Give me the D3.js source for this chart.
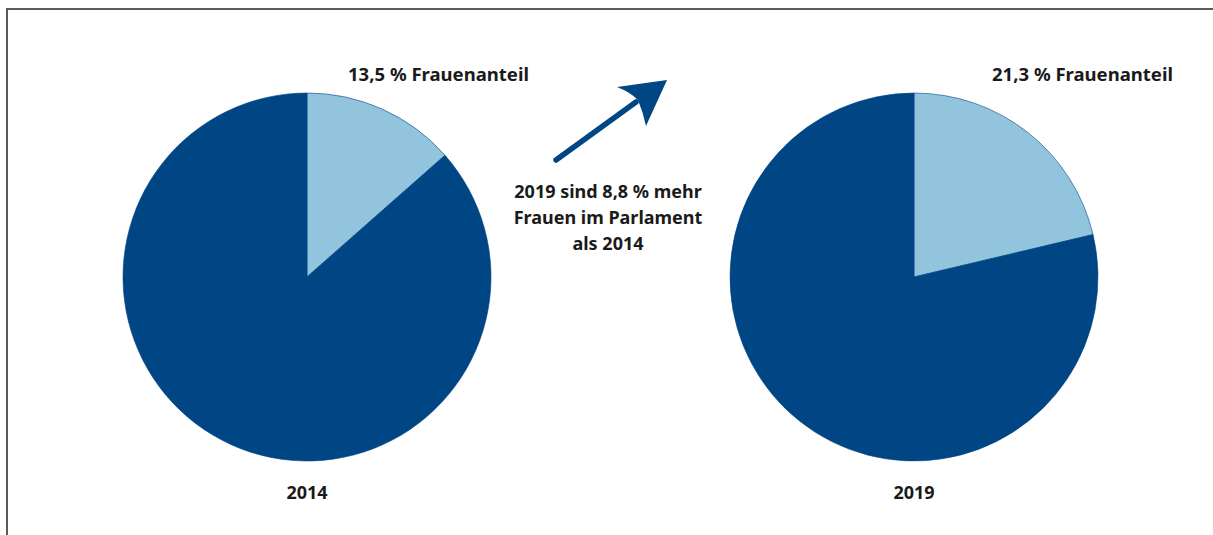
<!DOCTYPE html>
<html>
<head>
<meta charset="utf-8">
<script src="https://cdn.jsdelivr.net/npm/d3@7"></script>
<style>
  body { margin: 0; background: #fff; }
  svg text { font-family: "Noto Sans", "Open Sans", sans-serif; font-weight: bold; fill: #1a1a1a; }
</style>
</head>
<body>
<div id="wrapper"></div>
<script>
// data
const years = ["2014", "2019"]
const womenShare = [13.5, 21.3]
const menShare = [86.5, 78.7]
const shareLabels = ["13,5 % Frauenanteil", "21,3 % Frauenanteil"]
const noteLines = ["2019 sind 8,8 % mehr", "Frauen im Parlament", "als 2014"]

function drawPies() {
  const dimensions = { width: 1213, height: 535 }

  const wrapper = d3.select("#wrapper")
    .append("svg")
      .attr("width", dimensions.width)
      .attr("height", dimensions.height)

  // frame (top + left only)
  wrapper.append("path")
    .attr("d", "M7,535 L7,9 L1213,9")
    .attr("fill", "none")
    .attr("stroke", "#5a5a5a")
    .attr("stroke-width", 2)

  const radius = 184
  const xScale = d3.scalePoint()
    .domain(years)
    .range([307, 914])
  const cy = 277

  const colors = ["#93c4dd", "#004584"]

  const pie = d3.pie().sort(null).value(d => d)
  const arc = d3.arc().innerRadius(0).outerRadius(radius)

  // label start offsets relative to pie centre
  const labelOffsets = [41, 78]

  years.forEach((year, i) => {
    const g = wrapper.append("g")
      .attr("transform", `translate(${xScale(year)},${cy})`)

    g.selectAll("path")
      .data(pie([womenShare[i], menShare[i]]))
      .join("path")
        .attr("d", arc)
        .attr("fill", (d, j) => colors[j])
        .attr("stroke", colors[1])
        .attr("stroke-width", 0.6)

    wrapper.append("text")
      .attr("x", xScale(year) + labelOffsets[i])
      .attr("y", 81)
      .attr("font-size", 18)
      .attr("textLength", 181)
      .attr("lengthAdjust", "spacingAndGlyphs")
      .text(shareLabels[i])

    wrapper.append("text")
      .attr("x", xScale(year))
      .attr("y", 499)
      .attr("text-anchor", "middle")
      .attr("font-size", 18)
      .text(year)
  })

  // arrow
  const arrow = wrapper.append("g")
  arrow.append("line")
    .attr("x1", 556).attr("y1", 160)
    .attr("x2", 636).attr("y2", 102)
    .attr("stroke", colors[1])
    .attr("stroke-width", 5.5)
    .attr("stroke-linecap", "round")
  arrow.append("path")
    .attr("d", "M667,80 L617,87 Q630,92 638,100 Q643,112 646,126 Z")
    .attr("fill", colors[1])

  // note
  const note = wrapper.append("text")
    .attr("text-anchor", "middle")
    .attr("font-size", 18)
  note.selectAll("tspan")
    .data(noteLines)
    .join("tspan")
      .attr("x", 608)
      .attr("y", (d, i) => 198 + i * 26)
      .text(d => d)
}
drawPies()
</script>
</body>
</html>
